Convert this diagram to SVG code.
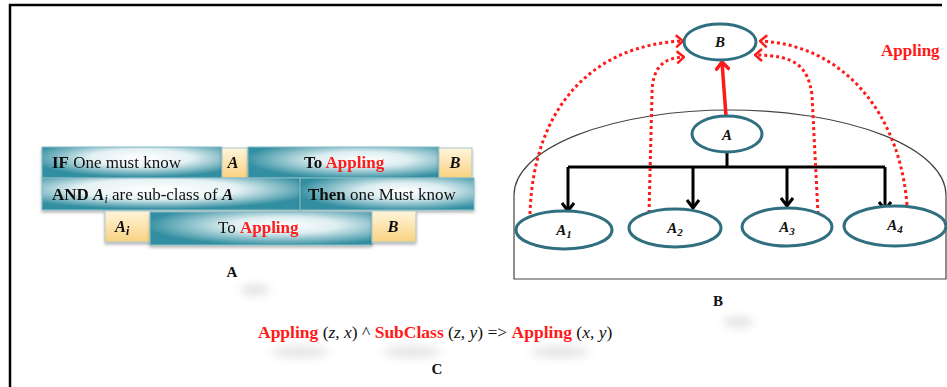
<svg xmlns="http://www.w3.org/2000/svg" width="947" height="387" viewBox="0 0 947 387">
<style>
.t{font-family:"Liberation Serif","Times New Roman",serif;fill:#111}
.b{font-weight:bold}
.i{font-style:italic}
.r{fill:#ff1a1a;font-weight:bold}
.teal{stroke:#86bcc7;stroke-width:1}
.yel{fill:url(#gy);stroke:#a9c6cc;stroke-width:1}
.ell{fill:#fff;stroke:#2f6f7f;stroke-width:3}
.blk{fill:none;stroke:#000;stroke-width:3}
.dot{fill:none;stroke:#ff1a1a;stroke-width:3;stroke-dasharray:3 3}
</style>
<defs>
<radialGradient id="g1" cx="0.55" cy="0.35" r="0.62"><stop offset="0" stop-color="#fff"/><stop offset="0.45" stop-color="#e4f1f3"/><stop offset="1" stop-color="#338fa1"/></radialGradient>
<radialGradient id="g2" cx="0.6" cy="0.4" r="0.62"><stop offset="0" stop-color="#fff"/><stop offset="0.4" stop-color="#dcedf0"/><stop offset="1" stop-color="#338fa1"/></radialGradient>
<radialGradient id="g3" cx="0.45" cy="0.35" r="0.62"><stop offset="0" stop-color="#fff"/><stop offset="0.5" stop-color="#e6f2f4"/><stop offset="1" stop-color="#338fa1"/></radialGradient>
<linearGradient id="gy" x1="0" y1="0" x2="0" y2="1"><stop offset="0" stop-color="#fff5dc"/><stop offset="1" stop-color="#f9d280"/></linearGradient>
<filter id="sh" x="-10%" y="-20%" width="120%" height="160%"><feDropShadow dx="0" dy="2" stdDeviation="1.5" flood-color="#000" flood-opacity="0.3"/></filter>
<filter id="blur" x="-50%" y="-100%" width="200%" height="300%"><feGaussianBlur stdDeviation="5"/></filter>
<marker id="mk" viewBox="0 0 10 14" markerWidth="10" markerHeight="14" refX="9" refY="7" orient="auto" markerUnits="userSpaceOnUse"><path d="M1,1 L9,7 L1,13" fill="none" stroke="#000" stroke-width="3"/></marker>
<marker id="mr" viewBox="0 0 10 16" markerWidth="10" markerHeight="16" refX="9" refY="8" orient="auto" markerUnits="userSpaceOnUse"><path d="M1,1 L9,8 L1,15" fill="none" stroke="#ff1a1a" stroke-width="3.5"/></marker>
<marker id="md" viewBox="0 0 9 14" markerWidth="9" markerHeight="14" refX="8" refY="7" orient="auto" markerUnits="userSpaceOnUse"><path d="M1,1 L8,7 L1,13" fill="none" stroke="#ff1a1a" stroke-width="2.5"/></marker>
</defs>
<rect width="947" height="387" fill="#fff"/>
<path d="M10,387 L10,5 L942,5" fill="none" stroke="#000" stroke-width="2.5"/>

<!-- shadows -->
<g opacity="0.3" filter="url(#blur)" fill="#999">
<ellipse cx="300" cy="352" rx="30" ry="5"/>
<ellipse cx="412" cy="352" rx="30" ry="5"/>
<ellipse cx="560" cy="352" rx="30" ry="5"/>
<ellipse cx="255" cy="290" rx="15" ry="5"/>
<ellipse cx="738" cy="322" rx="15" ry="5"/>
</g>

<!-- Panel A -->
<g id="rowIF" filter="url(#sh)">
<rect x="42" y="147" width="180" height="31" fill="url(#g1)" class="teal"/>
<text class="t" x="52" y="168" font-size="17"><tspan class="b">IF</tspan> One must know</text>
</g>
<g id="boxA1" filter="url(#sh)">
<rect x="222" y="148" width="26" height="30" class="yel"/>
<text class="t b i" x="233" y="168" font-size="16.5" text-anchor="middle">A</text>
</g>
<g id="rowTo1" filter="url(#sh)">
<rect x="248" y="147" width="191" height="31" fill="url(#g2)" class="teal"/>
<text class="t b" x="304" y="168" font-size="17">To <tspan class="r">Appling</tspan></text>
</g>
<g id="boxB1" filter="url(#sh)">
<rect x="439" y="148" width="33" height="30" class="yel"/>
<text class="t b i" x="455" y="168" font-size="16.5" text-anchor="middle">B</text>
</g>
<g id="rowAND" filter="url(#sh)">
<rect x="42" y="178" width="258" height="32" fill="url(#g3)" class="teal"/>
<text class="t" x="52" y="200" font-size="17"><tspan class="b">AND </tspan><tspan class="b i">A</tspan><tspan class="i" font-size="12" dy="3">i</tspan><tspan dy="-3"> are sub-class of </tspan><tspan class="b i">A</tspan></text>
</g>
<g id="rowThen" filter="url(#sh)">
<rect x="300" y="178" width="174" height="32" fill="url(#g2)" class="teal"/>
<text class="t" x="308" y="200" font-size="17"><tspan class="b">Then</tspan> one Must know</text>
</g>
<g id="boxAi" filter="url(#sh)">
<rect x="105" y="211" width="46" height="31" class="yel"/>
<text class="t b i" x="115" y="232" font-size="16.5">A<tspan font-size="12" dy="3">i</tspan></text>
</g>
<g id="rowTo2" filter="url(#sh)">
<rect x="150" y="212" width="222" height="33" fill="url(#g2)" class="teal"/>
<text class="t" x="218" y="233" font-size="17">To <tspan class="r">Appling</tspan></text>
</g>
<g id="boxB2" filter="url(#sh)">
<rect x="372" y="211" width="44" height="31" class="yel"/>
<text class="t b i" x="393" y="232" font-size="16.5" text-anchor="middle">B</text>
</g>
<text class="t b" x="232" y="277" font-size="15" text-anchor="middle">A</text>

<!-- Panel B -->
<path id="hull" d="M514,279 L514,195 A216,85 0 0 1 946,195 L946,279 Z" fill="none" stroke="#444" stroke-width="1.2"/>

<g id="connectors">
<path class="blk" d="M727,152 L727,167 M568,167 L885,167"/>
<path class="blk" d="M568,167 L568,211" marker-end="url(#mk)"/>
<path class="blk" d="M693,167 L693,208" marker-end="url(#mk)"/>
<path class="blk" d="M787,167 L787,206" marker-end="url(#mk)"/>
<path class="blk" d="M885,167 L885,210" marker-end="url(#mk)"/>
<path d="M726,116 L722,62" fill="none" stroke="#ff1a1a" stroke-width="3.5" marker-end="url(#mr)"/>
<path class="dot" d="M530,214 C533,110 590,45 683,41" marker-end="url(#md)"/>
<path class="dot" d="M649,213 L652,95 C652,66 664,58 684,57" marker-end="url(#md)"/>
<path class="dot" d="M818,214 L812,95 C808,66 795,55 755,55" marker-end="url(#md)"/>
<path class="dot" d="M907,205 C900,115 845,45 760,41" marker-end="url(#md)"/>
</g>

<g id="nodeB">
<ellipse class="ell" cx="720" cy="42" rx="36" ry="18"/>
<text class="t b i" x="720" y="47" font-size="15" text-anchor="middle">B</text>
</g>
<g id="nodeA">
<ellipse class="ell" cx="727" cy="134" rx="35" ry="18"/>
<text class="t b i" x="727" y="140" font-size="15" text-anchor="middle">A</text>
</g>
<g id="nodeA1">
<ellipse class="ell" cx="564" cy="230" rx="48" ry="19"/>
<text class="t b i" x="564" y="235" font-size="15" text-anchor="middle">A<tspan font-size="11" dy="3">1</tspan></text>
</g>
<g id="nodeA2">
<ellipse class="ell" cx="675" cy="228" rx="46" ry="19"/>
<text class="t b i" x="675" y="233" font-size="15" text-anchor="middle">A<tspan font-size="11" dy="3">2</tspan></text>
</g>
<g id="nodeA3">
<ellipse class="ell" cx="787" cy="227" rx="45" ry="19"/>
<text class="t b i" x="787" y="232" font-size="15" text-anchor="middle">A<tspan font-size="11" dy="3">3</tspan></text>
</g>
<g id="nodeA4">
<ellipse class="ell" cx="895" cy="226" rx="51" ry="20"/>
<text class="t b i" x="895" y="230" font-size="15" text-anchor="middle">A<tspan font-size="11" dy="3">4</tspan></text>
</g>
<text class="t r" x="881" y="56" font-size="17">Appling</text>
<text class="t b" x="718" y="306" font-size="15" text-anchor="middle">B</text>

<!-- Panel C -->
<text class="t" x="258" y="338" font-size="17.5"><tspan class="r">Appling</tspan> (<tspan class="i">z</tspan>, <tspan class="i">x</tspan>) ^ <tspan class="r">SubClass</tspan> (<tspan class="i">z</tspan>, <tspan class="i">y</tspan>)  =&gt; <tspan class="r">Appling</tspan> (<tspan class="i">x</tspan>, <tspan class="i">y</tspan>)</text>
<text class="t b" x="437" y="374" font-size="15" text-anchor="middle">C</text>
</svg>
